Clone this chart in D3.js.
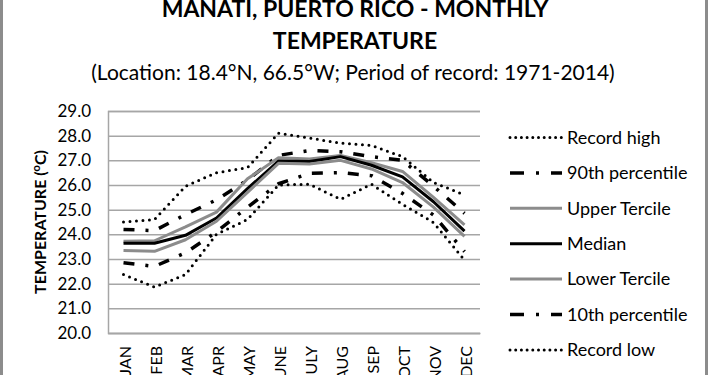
<!DOCTYPE html>
<html>
<head>
<meta charset="utf-8">
<script src="https://cdn.jsdelivr.net/npm/d3@7"></script>
<style>
    body { margin: 0; background: #fff; }
    svg { display: block; font-family: Lato, "Open Sans", sans-serif; }
</style>
</head>
<body>
<svg id="chart"></svg>
<script>
// values
const months = ["JAN", "FEB", "MAR", "APR", "MAY", "JUNE", "JULY", "AUG", "SEP", "OCT", "NOV", "DEC"];
const recordHigh = [24.5, 24.6, 25.95, 26.5, 26.7, 28.1, 27.9, 27.7, 27.6, 27.15, 26.1, 25.6];
const pct90 = [24.2, 24.15, 24.8, 25.4, 26.2, 27.2, 27.4, 27.35, 27.15, 27.0, 25.95, 24.85];
const upperTercile = [23.72, 23.74, 24.3, 24.9, 26.25, 27.1, 27.05, 27.2, 26.9, 26.55, 25.5, 24.38];
const median = [23.64, 23.64, 23.96, 24.66, 25.85, 26.97, 26.95, 27.15, 26.8, 26.33, 25.32, 24.13];
const lowerTercile = [23.34, 23.31, 23.78, 24.53, 25.7, 26.88, 26.85, 27.0, 26.65, 26.1, 25.1, 23.92];
const pct10 = [22.85, 22.7, 23.25, 24.1, 25.1, 26.05, 26.47, 26.5, 26.38, 25.66, 24.78, 23.3];
const recordLow = [22.37, 21.86, 22.37, 24.0, 24.6, 26.0, 26.03, 25.42, 26.03, 25.22, 24.48, 22.95];
const yTicks = [20, 21, 22, 23, 24, 25, 26, 27, 28, 29];

const width = 710, height = 375;
const margin = { top: 111, right: 230, bottom: 42, left: 108 };
const plotW = width - margin.left - margin.right;
const plotH = height - margin.top - margin.bottom;

const dotted = { color: "#000", width: 3, dash: "0 6.5", cap: "round", legendDash: "0 5.7" };
const dashDot = { color: "#000", width: 3.5, dash: "11 11 3 11", cap: "butt", legendDash: "14 12 3 12 11" };
const series = [
    { name: "Record high", values: recordHigh, ...dotted },
    { name: "90th percentile", values: pct90, ...dashDot },
    { name: "Upper Tercile", values: upperTercile, color: "#8c8c8c", width: 3, dash: null, cap: "butt" },
    { name: "Median", values: median, color: "#000", width: 3, dash: null, cap: "butt" },
    { name: "Lower Tercile", values: lowerTercile, color: "#8c8c8c", width: 3, dash: null, cap: "butt" },
    { name: "10th percentile", values: pct10, ...dashDot },
    { name: "Record low", values: recordLow, ...dotted }
];

const svg = d3.select("#chart").attr("width", width).attr("height", height);

svg.append("rect")
    .attr("width", width).attr("height", height).attr("fill", "#fff");

// titles
svg.append("text")
    .attr("x", 355).attr("y", 17)
    .attr("text-anchor", "middle")
    .attr("font-size", 23).attr("font-weight", "bold")
    .text("MANATI, PUERTO RICO - MONTHLY");
svg.append("text")
    .attr("x", 355).attr("y", 49)
    .attr("text-anchor", "middle")
    .attr("font-size", 23).attr("font-weight", "bold")
    .text("TEMPERATURE");
svg.append("text")
    .attr("x", 353).attr("y", 80)
    .attr("text-anchor", "middle")
    .attr("font-size", 21)
    .text("(Location: 18.4°N, 66.5°W; Period of record: 1971-2014)");

const x = d3.scaleBand().domain(months).range([0, plotW]);
const y = d3.scaleLinear().domain([20, 29]).range([plotH, 0]);

const plot = svg.append("g")
    .attr("transform", `translate(${margin.left}, ${margin.top})`);

// y axis with gridlines
const yAxis = plot.append("g")
    .call(d3.axisLeft(y).tickValues(yTicks).tickFormat(d3.format(".1f")).tickSize(-plotW).tickPadding(17));
yAxis.select(".domain").attr("stroke", "#a6a6a6").attr("stroke-width", 1.5);
yAxis.selectAll(".tick line").attr("stroke", "#a6a6a6").attr("stroke-width", 1.5);
yAxis.selectAll(".tick text")
    .attr("font-size", 17).attr("fill", "#000")
    .attr("font-family", "Lato, sans-serif");

// x axis
const xAxis = plot.append("g")
    .attr("transform", `translate(0, ${plotH})`)
    .call(d3.axisBottom(x).tickSize(0));
xAxis.select(".domain").attr("stroke", "#a6a6a6").attr("stroke-width", 1.5);
xAxis.selectAll(".tick text")
    .attr("font-size", 16).attr("fill", "#000")
    .attr("font-family", "Lato, sans-serif")
    .attr("text-anchor", "end")
    .attr("dy", null)
    .attr("y", 0)
    .attr("transform", "translate(7, 13) rotate(-90)");

// y axis title
const yTitle = svg.append("text")
    .attr("transform", `translate(46, ${margin.top + plotH / 2}) rotate(-90)`)
    .attr("text-anchor", "middle")
    .attr("font-size", 16).attr("font-weight", "bold");
yTitle.append("tspan").text("TEMPERATURE (");
yTitle.append("tspan").attr("font-size", 11).attr("dy", -6).text("o");
yTitle.append("tspan").attr("dy", 6).text("C)");

// series lines
const line = d3.line()
    .x((d, i) => x(months[i]) + x.bandwidth() / 2)
    .y(d => y(d));

plot.selectAll("path.series")
    .data(series)
    .join("path")
    .attr("class", "series")
    .attr("d", d => line(d.values))
    .attr("fill", "none")
    .attr("stroke", d => d.color)
    .attr("stroke-width", d => d.width)
    .attr("stroke-dasharray", d => d.dash)
    .attr("stroke-linecap", d => d.cap)
    .attr("stroke-linejoin", "round");

// legend
const legend = svg.append("g").attr("transform", "translate(510, 137.5)");
const items = legend.selectAll("g")
    .data(series)
    .join("g")
    .attr("transform", (d, i) => `translate(0, ${i * 35.4})`);
items.append("line")
    .attr("x1", 0).attr("x2", 52)
    .attr("stroke", d => d.color)
    .attr("stroke-width", d => d.width)
    .attr("stroke-dasharray", d => d.legendDash || null)
    .attr("stroke-linecap", d => d.cap);
items.append("text")
    .attr("x", 57).attr("dy", "0.35em")
    .attr("font-size", 18)
    .text(d => d.name);

// outer frame of the chart
svg.append("rect")
    .attr("x", 1.5).attr("y", -5)
    .attr("width", 705).attr("height", height + 10)
    .attr("fill", "none")
    .attr("stroke", "#8c8c8c")
    .attr("stroke-width", 3);
</script>
</body>
</html>
